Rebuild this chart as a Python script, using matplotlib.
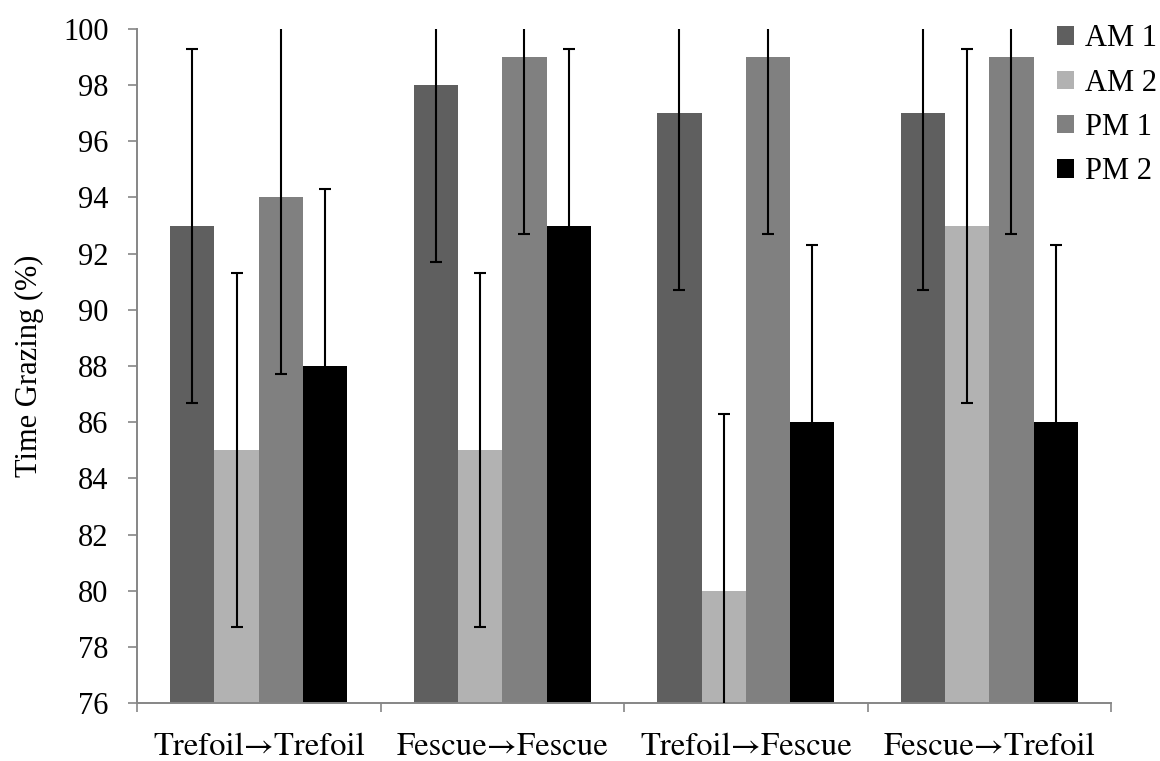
import matplotlib.pyplot as plt
import numpy as np
from matplotlib.patches import Patch
from matplotlib.ticker import FixedLocator


categories = ["Trefoil\u2192Trefoil", "Fescue\u2192Fescue", "Trefoil\u2192Fescue", "Fescue\u2192Trefoil"]
series = ["AM 1", "AM 2", "PM 1", "PM 2"]
am1 = [93, 98, 97, 97]
am2 = [85, 85, 80, 93]
pm1 = [94, 99, 99, 99]
pm2 = [88, 93, 86, 86]
err = [6.3, 6.3, 6.3, 6.3]
yticks = [76, 78, 80, 82, 84, 86, 88, 90, 92, 94, 96, 98, 100]

colors = ["#5f5f5f", "#b2b2b2", "#808080", "#000000"]
axis_grey = "#868686"

plt.rcParams.update({
    "font.family": ["Liberation Serif", "DejaVu Serif"],
    "font.size": 22,
})

fig = plt.figure(figsize=(11.6, 7.61), dpi=100)
ax = fig.add_axes([0.1181, 0.0762, 0.9578 - 0.1181, 0.9619 - 0.0762])

x = np.arange(len(categories))
width = 1 / (len(series) + 1.5)
values = [am1, am2, pm1, pm2]
for i, (vals, col) in enumerate(zip(values, colors)):
    offs = (i - 1.5) * width
    ax.bar(x + offs, vals, width=width, color=col, label=series[i], zorder=2)
    ax.errorbar(x + offs, vals, yerr=err, fmt="none", ecolor="black",
                elinewidth=1.5, capsize=4.5, capthick=1.5, zorder=3)

ax.set_xlim(-0.5, len(categories) - 0.5)
ax.set_ylim(76, 100)
ax.set_yticks(yticks)
ax.set_xticks(x)
# STIX (bundled Times clone) has the long arrow glyph
ax.set_xticklabels(categories, family=["STIXGeneral", "Liberation Serif"], fontsize=23.5)
ax.xaxis.set_minor_locator(FixedLocator(np.arange(-0.5, len(categories), 1.0)))
ax.tick_params(axis="x", which="major", length=0, pad=21)
ax.tick_params(axis="x", which="minor", length=6.5, width=1.2, color=axis_grey, direction="out")
ax.tick_params(axis="y", length=6.5, width=1.2, color=axis_grey, direction="out", pad=14)

for side in ["top", "right"]:
    ax.spines[side].set_visible(False)
for side in ["left", "bottom"]:
    ax.spines[side].set_color(axis_grey)
    ax.spines[side].set_linewidth(1.4)

ax.set_ylabel("Time Grazing (%)", labelpad=14)

handles = [Patch(facecolor=c, edgecolor="none") for c in colors]
fig.legend(handles, series, loc="upper right", bbox_to_anchor=(1.013, 0.992),
           frameon=False, handlelength=0.55, handleheight=0.55,
           handletextpad=0.35, labelspacing=0.5, borderaxespad=0.2)

fig.savefig("out.png", dpi=100)
